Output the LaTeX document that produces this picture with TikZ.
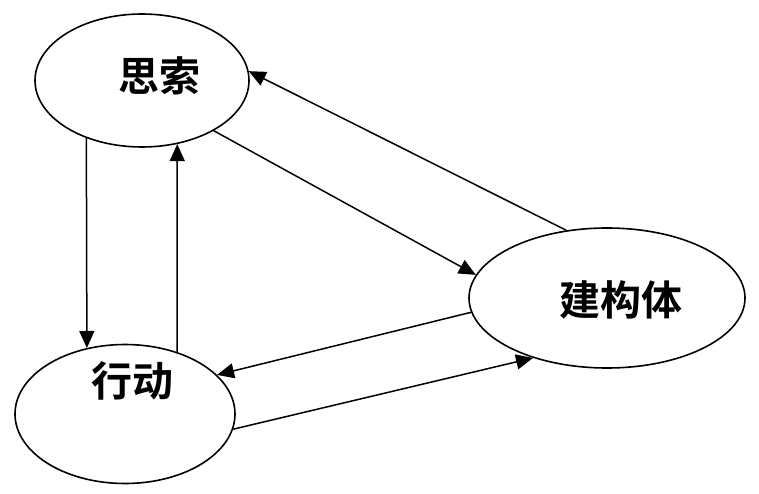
\documentclass[tikz,border=0pt]{standalone}
\usepackage{fontspec}
\usepackage{tikz}
\usetikzlibrary{positioning,arrows.meta,shapes.geometric}
\newfontfamily\cjk{Noto Sans CJK SC}[BoldFont=* Bold]

\tikzset{
  loop-ell/.style={draw=black, ellipse, line width=1.6pt, inner sep=0pt},
  loop-word/.style={font=\cjk\bfseries\fontsize{41}{41}\selectfont, inner sep=0pt},
  loop-flow/.style={-{Triangle[length=17pt,width=15pt]}, line width=1.5pt, draw=black}
}

\begin{document}
\begin{tikzpicture}[x=1pt, y=-1pt]
\useasboundingbox (0,0) rectangle (759,494);

\node[loop-ell, minimum width=214pt, minimum height=133pt] (think) at (142,80.5) {};
\node[loop-ell, minimum width=220pt, minimum height=139pt] (act) at (125,414) {};
\node[loop-ell, minimum width=276pt, minimum height=140pt] (build) at (607,298) {};

\node[loop-word] (think-t) at (159,76) {思索};
\node[loop-word] (act-t) at (132,381) {行动};
\node[loop-word] (build-t) at (621,300) {建构体};

\draw[loop-flow] (think.-134) -- (act.120);
\draw[loop-flow] (act.50) -- (think.-61);
\draw[loop-flow] (think.-35) -- (build.170);
\draw[loop-flow] (build.121) -- (think.5);
\draw[loop-flow] (build.-174) -- (act.23);
\draw[loop-flow] (act.-8) -- (build.-141);
\end{tikzpicture}
\end{document}
